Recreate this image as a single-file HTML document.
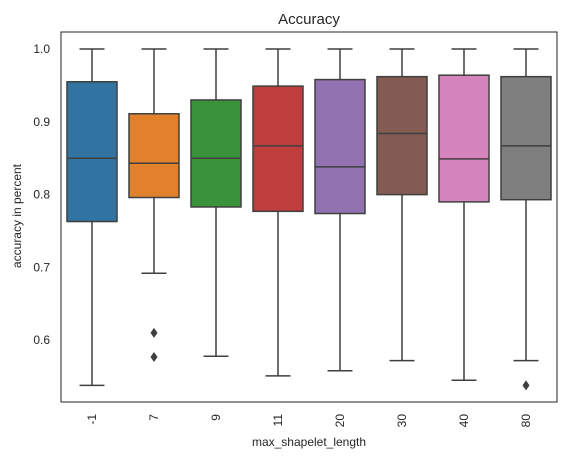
<!DOCTYPE html>
<html><head><meta charset="utf-8"><style>
body{margin:0;background:#fff;font-family:"Liberation Sans","DejaVu Sans",sans-serif;}
svg text{font-family:"Liberation Sans","DejaVu Sans",sans-serif;fill:#262626;}
</style></head><body>
<svg id="chart" width="567" height="459">
<text x="309" y="24" font-size="15" text-anchor="middle">Accuracy</text>
<text x="309" y="446" font-size="12" text-anchor="middle">max_shapelet_length</text>
<text transform="translate(21,216) rotate(-90)" font-size="12" text-anchor="middle">accuracy in percent</text>
<g id="plot"></g>
<rect x="61" y="32" width="496" height="370" fill="none" stroke="#262626" stroke-width="1"/>
</svg>
<script>
const categories=["-1","7","9","11","20","30","40","80"];
const q1=[0.763,0.796,0.783,0.777,0.774,0.800,0.790,0.793];
const medians=[0.850,0.843,0.850,0.867,0.838,0.884,0.849,0.867];
const q3=[0.955,0.911,0.930,0.949,0.958,0.962,0.964,0.962];
const whiskLow=[0.538,0.692,0.578,0.551,0.558,0.572,0.545,0.572];
const whiskHigh=[1.0,1.0,1.0,1.0,1.0,1.0,1.0,1.0];
const fliers=[[],[0.610,0.577],[],[],[],[],[],[0.538]];
const yTicks=[0.6,0.7,0.8,0.9,1.0];
const colors=["#3274a1","#e1812c","#3a923a","#c03d3e","#9372b2","#845b53","#d684bd","#7f7f7f"];
const NS="http://www.w3.org/2000/svg";
const g=document.getElementById('plot');
const x0=61,x1=557;
function xs(i){return x0+(x1-x0)*(i+0.5)/categories.length;}
function ys(v){return 49+(1-v)*728;}
function mk(t,a){const e=document.createElementNS(NS,t);for(const k in a)e.setAttribute(k,a[k]);g.appendChild(e);return e;}
const lc="#3f3f3f",bw=50;
yTicks.forEach(v=>{
 const t=mk('text',{x:50,y:ys(v)+4,'font-size':12,'text-anchor':'end'});
 t.textContent=v.toFixed(1);
 
 
});
categories.forEach((c,i)=>{
 const cx=xs(i);
 const t=mk('text',{transform:`translate(${cx+4},414) rotate(-90)`,'font-size':12,'text-anchor':'end'});
 t.textContent=c;
 
 
 const w1=mk('line',{x1:cx,x2:cx,y1:ys(q1[i]),y2:ys(whiskLow[i]),stroke:lc,'stroke-width':1.5});
 
 
 const w2=mk('line',{x1:cx,x2:cx,y1:ys(q3[i]),y2:ys(whiskHigh[i]),stroke:lc,'stroke-width':1.5});
 
 
 [whiskLow[i],whiskHigh[i]].forEach(v=>{
  const cap=mk('line',{x1:cx-bw/4,x2:cx+bw/4,y1:ys(v),y2:ys(v),stroke:lc,'stroke-width':1.5});
  
  
 });
 const b=mk('rect',{x:cx-bw/2,y:ys(q3[i]),width:bw,height:ys(q1[i])-ys(q3[i]),fill:colors[i],stroke:lc,'stroke-width':1.5});
 
 
 const m=mk('line',{x1:cx-bw/2,x2:cx+bw/2,y1:ys(medians[i]),y2:ys(medians[i]),stroke:lc,'stroke-width':1.5});
 
 
 fliers[i].forEach(v=>{
  const y=ys(v);
  const d=mk('polygon',{points:`${cx},${y-5} ${cx+3.5},${y} ${cx},${y+5} ${cx-3.5},${y}`,fill:lc});
  
  
 });
});
</script>
</body></html>
